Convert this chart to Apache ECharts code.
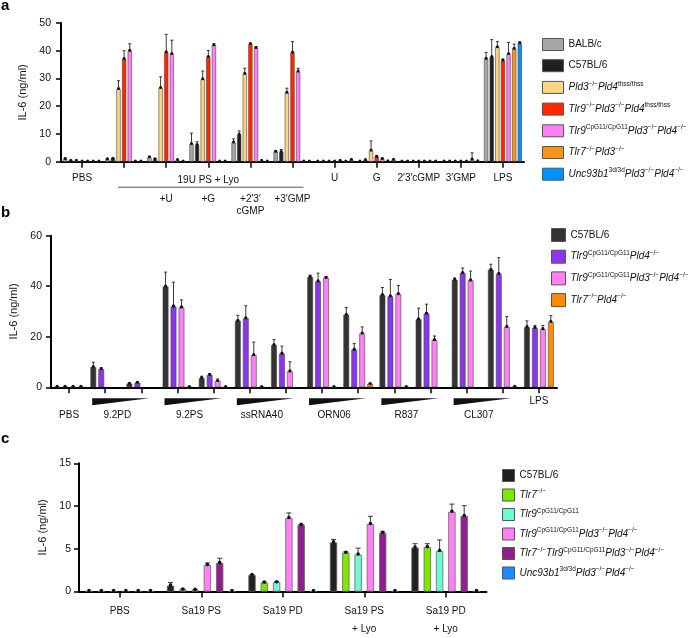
<!DOCTYPE html>
<html><head><meta charset="utf-8">
<script src="https://cdn.jsdelivr.net/npm/echarts@6/dist/echarts.min.js"></script>
<style>html,body{margin:0;padding:0;background:#fff}#c{width:700px;height:638px}</style>
</head><body><div id="c"></div>
<script>
// ================= DATA =================
// Panel a
const catsA = ['PBS', '', '+U', '+G', '+2′3′\ncGMP', '+3′GMP', 'U', 'G', '2′3′cGMP', '3′GMP', 'LPS'];
const groupA = { label: '19U PS + Lyo', first: 1, last: 5 };
const namesA = ['BALB/c', 'C57BL/6', 'Pld3^{−/−}Pld4^{thss/thss}', 'Tlr9^{−/−}Pld3^{−/−}Pld4^{thss/thss}',
  'Tlr9^{CpG11/CpG11}Pld3^{−/−}Pld4^{−/−}', 'Tlr7^{−/−}Pld3^{−/−}', 'Unc93b1^{3d/3d}Pld3^{−/−}Pld4^{−/−}'];
const a_BALBc  = [1.0, 0.85, 1.6, 6.4, 6.9, 3.6, 0.1, 0.1, 0.1, 0.1, 37.1];
const a_C57    = [0.3, 1.1, 0.85, 6.0, 9.7, 3.5, 0.1, 0.6, 0.1, 0.1, 37.7];
const a_Pld34  = [0.3, 26.2, 26.6, 29.7, 31.7, 24.9, 0.1, 4.0, 0.1, 0.1, 41.3];
const a_Tlr9KO = [0.1, 37.0, 39.5, 37.7, 42.4, 39.4, 0.1, 1.8, 0.1, 0.1, 36.5];
const a_Tlr9Cp = [0.1, 40.0, 38.8, 42.0, 41.0, 32.5, 0.3, 1.0, 0.1, 0.1, 38.8];
const a_Tlr7   = [0.1, 0.1, 0.6, 0.1, 0.3, 0.1, 0.1, 0.2, 0.1, 0.8, 40.7];
const a_Unc    = [0.1, 0.1, 0.1, 0.1, 0.1, 0.1, 0.7, 0.7, 0.1, 0.2, 42.7];
const aErr_BALBc  = [0.3, 0.2, 0.3, 3.9, 1.3, 0.3, 0, 0, 0, 0, 2.3];
const aErr_C57    = [0, 0.2, 0.3, 1.2, 1.4, 0.9, 0, 0, 0, 0, 6.3];
const aErr_Pld34  = [0, 3.0, 4.0, 3.0, 2.0, 1.6, 0, 3.5, 0, 0, 2.0];
const aErr_Tlr9KO = [0, 3.0, 6.4, 2.4, 0.3, 3.9, 0, 0.3, 0, 0, 0.5];
const aErr_Tlr9Cp = [0, 2.5, 5.0, 0.5, 0.5, 1.2, 0, 0.3, 0, 0, 4.2];
const aErr_Tlr7   = [0, 0, 0, 0, 0, 0, 0, 0, 0, 2.4, 1.7];
const aErr_Unc    = [0, 0, 0, 0, 0, 0, 0, 0, 0, 0, 0.5];

// Panel b
const stimB = ['9.2PD', '9.2PS', 'ssRNA40', 'ORN06', 'R837', 'CL307'];
const catsB = ['PBS', '9.2PD low', '9.2PD high', '9.2PS low', '9.2PS high', 'ssRNA40 low', 'ssRNA40 high',
  'ORN06 low', 'ORN06 high', 'R837 low', 'R837 high', 'CL307 low', 'CL307 high', 'LPS'];
const namesB = ['C57BL/6', 'Tlr9^{CpG11/CpG11}Pld4^{−/−}', 'Tlr9^{CpG11/CpG11}Pld3^{−/−}Pld4^{−/−}', 'Tlr7^{−/−}Pld4^{−/−}'];
const b_C57    = [0.2, 8.0, 1.4, 39.9, 3.6, 26.3, 16.7, 43.6, 28.7, 36.5, 26.9, 42.5, 46.5, 23.8];
const b_Tlr9P4 = [0.2, 7.2, 1.8, 32.0, 4.9, 27.3, 13.3, 41.9, 14.9, 36.0, 29.2, 45.2, 44.9, 23.5];
const b_Tlr9P34= [0.2, null, null, 31.6, 2.5, 12.7, 6.3, 43.3, 21.3, 36.9, 18.7, 42.3, 23.9, 23.0];
const b_Tlr7P4 = [0.2, null, null, 0.1, 0.1, 0.1, null, 0.1, 1.3, 0.1, null, null, 0.2, 25.9];
const bErr_C57    = [0, 1.9, 0.3, 5.7, 0.8, 2.2, 2.2, 0.8, 2.9, 3.0, 4.4, 0.8, 2.2, 2.5];
const bErr_Tlr9P4 = [0, 0.5, 0.3, 9.6, 0.5, 5.0, 3.0, 3.3, 2.4, 6.7, 3.7, 2.0, 6.4, 1.0];
const bErr_Tlr9P34= [0, 0, 0, 3.0, 0.8, 5.2, 3.8, 0.5, 2.6, 3.4, 1.6, 3.7, 4.1, 1.5];
const bErr_Tlr7P4 = [0, 0, 0, 0, 0, 0, 0, 0, 0.3, 0, 0, 0, 0, 2.5];

// Panel c
const catsC = ['PBS', 'Sa19 PS', 'Sa19 PD', 'Sa19 PS\n+ Lyo', 'Sa19 PD\n+ Lyo'];
const namesC = ['C57BL/6', 'Tlr7^{−/−}', 'Tlr9^{CpG11/CpG11}', 'Tlr9^{CpG11/CpG11}Pld3^{−/−}Pld4^{−/−}',
  'Tlr7^{−/−}Tlr9^{CpG11/CpG11}Pld3^{−/−}Pld4^{−/−}', 'Unc93b1^{3d/3d}Pld3^{−/−}Pld4^{−/−}'];
const c_C57     = [0.05, 0.7, 1.94, 5.75, 5.15];
const c_Tlr7    = [0.05, 0.25, 1.05, 4.55, 5.2];
const c_Tlr9    = [0.05, 0.2, 1.1, 4.33, 4.74];
const c_Tlr9P34 = [0.05, 3.1, 8.6, 7.9, 9.33];
const c_Tlr79P34= [0.05, 3.35, 7.8, 6.87, 8.84];
const c_Unc     = [0.05, 0.05, 0.05, 0.05, 0.05];
const cErr_C57     = [0, 0.35, 0.05, 0.35, 0.45];
const cErr_Tlr7    = [0, 0.05, 0.05, 0.1, 0.4];
const cErr_Tlr9    = [0, 0.05, 0.05, 0.75, 1.3];
const cErr_Tlr9P34 = [0, 0.25, 0.6, 0.9, 0.9];
const cErr_Tlr79P34= [0, 0.55, 0.05, 0.1, 1.2];
const cErr_Unc     = [0, 0, 0, 0, 0];

// ================= STYLE =================
const FONT = '"Liberation Sans", Arial, Helvetica, sans-serif';
const colorsA = ['#a7a7a9', '#231f20', '#fed480', '#ff2600', '#ff80f5', '#f7931e', '#0093ff'];
const colorsB = ['#333333', '#8b35ee', '#ff80f4', '#ff8c00'];
const colorsC = ['#231f20', '#80e800', '#6ffad6', '#ff80f5', '#8f1f8f', '#1a8cff'];
const PLAIN = new Set(['BALB/c', 'C57BL/6']);

const panels = [
  { key: 'a', names: namesA, colors: colorsA, vals: [a_BALBc, a_C57, a_Pld34, a_Tlr9KO, a_Tlr9Cp, a_Tlr7, a_Unc],
    errs: [aErr_BALBc, aErr_C57, aErr_Pld34, aErr_Tlr9KO, aErr_Tlr9Cp, aErr_Tlr7, aErr_Unc],
    catGap: 0.10, barGap: 0.33, cap: 3, dot: 1.5, border: '#444', bw: 0.6 },
  { key: 'b', names: namesB, colors: colorsB, vals: [b_C57, b_Tlr9P4, b_Tlr9P34, b_Tlr7P4],
    errs: [bErr_C57, bErr_Tlr9P4, bErr_Tlr9P34, bErr_Tlr7P4],
    catGap: 0.18, barGap: 0.38, cap: 3, dot: 1.6, border: '#444', bw: 0.6 },
  { key: 'c', names: namesC, colors: colorsC, vals: [c_C57, c_Tlr7, c_Tlr9, c_Tlr9P34, c_Tlr79P34, c_Unc],
    errs: [cErr_C57, cErr_Tlr7, cErr_Tlr9, cErr_Tlr9P34, cErr_Tlr79P34, cErr_Unc],
    catGap: 0.156, barGap: 0.68, cap: 5, dot: 1.8, border: '#666', bw: 0.8 }
];

function toRich(label) {
  const base = PLAIN.has(label) ? 'n' : 'i';
  let out = '', last = 0, m;
  const re = /\^\{([^}]*)\}/g;
  while ((m = re.exec(label))) {
    if (m.index > last) out += '{' + base + '|' + label.slice(last, m.index) + '}';
    out += '{s|' + m[1] + '}';
    last = re.lastIndex;
  }
  if (last < label.length) out += '{' + base + '|' + label.slice(last) + '}';
  return out;
}
const richStyles = (fs) => ({
  n: { fontFamily: FONT, fontSize: fs, color: '#111', lineHeight: 14 },
  i: { fontFamily: FONT, fontSize: fs, color: '#111', fontStyle: 'italic', lineHeight: 14 },
  s: { fontFamily: FONT, fontSize: fs * 0.65, color: '#111', verticalAlign: 'top', lineHeight: 8 }
});

function yAxisCfg(grid, max, interval, nameGap, margin) {
  return { type: 'value', gridIndex: grid, min: 0, max, interval,
    name: 'IL-6 (ng/ml)', nameLocation: 'middle', nameGap, nameRotate: 90,
    nameTextStyle: { fontFamily: FONT, fontSize: 11, color: '#111' },
    axisLine: { show: true, lineStyle: { color: '#000', width: 2 } },
    axisTick: { show: true, length: 5, lineStyle: { color: '#000', width: 1.5 } },
    axisLabel: { fontFamily: FONT, fontSize: 10.5, color: '#111', margin },
    splitLine: { show: false } };
}
function xAxisCfg(grid, data, labelOpt) {
  return { type: 'category', gridIndex: grid, data,
    axisLine: { show: true, lineStyle: { color: '#000', width: 2 } },
    axisTick: { show: true, alignWithLabel: true, length: 6, lineStyle: { color: '#000', width: 1.5 } },
    axisLabel: Object.assign({ interval: 0, fontFamily: FONT, fontSize: 10, color: '#111' }, labelOpt),
    splitLine: { show: false } };
}

const series = [];
panels.forEach((p, gi) => {
  const n = p.names.length;
  p.names.forEach((nm, si) => {
    series.push({ type: 'bar', name: p.key + ':' + nm, xAxisIndex: gi, yAxisIndex: gi,
      data: p.vals[si], barGap: (p.barGap * 100) + '%', barCategoryGap: (p.catGap * 100) + '%',
      itemStyle: { color: p.colors[si], borderColor: p.border, borderWidth: p.bw }, silent: true });
    const vals = p.vals[si], errs = p.errs[si];
    series.push({ type: 'custom', xAxisIndex: gi, yAxisIndex: gi, silent: true, z: 5, clip: false,
      data: vals.map((v, i) => v == null ? null : [i, v, errs[i] || 0]).filter(d => d),
      renderItem: function (params, api) {
        const band = api.size([1, 0])[0];
        const bw = band * (1 - p.catGap) / (n + (n - 1) * p.barGap);
        const off = (si - (n - 1) / 2) * bw * (1 + p.barGap);
        const c = api.coord([api.value(0), api.value(1)]);
        const t = api.coord([api.value(0), api.value(1) + api.value(2)]);
        const x = c[0] + off;
        const ch = [];
        if (api.value(2) > 0) {
          ch.push({ type: 'line', shape: { x1: x, y1: c[1], x2: x, y2: t[1] }, style: { stroke: '#222', lineWidth: 0.9 } });
          ch.push({ type: 'line', shape: { x1: x - p.cap / 2, y1: t[1], x2: x + p.cap / 2, y2: t[1] }, style: { stroke: '#222', lineWidth: 0.9 } });
        }
        ch.push({ type: 'circle', shape: { cx: x, cy: c[1] - 0.5, r: p.dot }, style: { fill: '#111' } });
        return { type: 'group', children: ch };
      } });
  });
});

function legendCfg(p, left, top, iw, ih, gap) {
  return { orient: 'vertical', left, top, padding: 0, itemWidth: iw, itemHeight: ih, itemGap: gap,
    icon: 'rect', selectedMode: false,
    itemStyle: { borderColor: '#555', borderWidth: 1 },
    data: p.names.map(nm => p.key + ':' + nm),
    formatter: (name) => toRich(name.slice(2)),
    textStyle: { fontFamily: FONT, fontSize: 10, color: '#111', rich: richStyles(10) } };
}

const option = {
  animation: false,
  backgroundColor: '#fff',
  grid: [
    { left: 61, top: 23, width: 463, height: 138.7 },
    { left: 47, top: 235.7, width: 510, height: 151.6 },
    { left: 79, top: 463.3, width: 407.5, height: 134 }
  ],
  xAxis: [
    xAxisCfg(0, catsA, { margin: 12, formatter: (v, i) => (i >= groupA.first && i <= groupA.last) ? '' : v }),
    xAxisCfg(1, catsB, { margin: 9, formatter: (v, i) => i === catsB.length - 1 ? v : '' }),
    xAxisCfg(2, catsC, { margin: 11, lineHeight: 17.7 })
  ],
  yAxis: [
    yAxisCfg(0, 50, 10, 30, 10),
    yAxisCfg(1, 60, 20, 32, 9),
    yAxisCfg(2, 15, 5, 30, 8)
  ],
  legend: [
    legendCfg(panels[0], 542, 38, 21, 12, 8.2),
    legendCfg(panels[1], 551, 228, 14, 13, 7.7),
    legendCfg(panels[2], 502, 469, 12, 12, 6)
  ],
  series
};

const chart = echarts.init(document.getElementById('c'));
chart.setOption(option);

// ---- annotations placed through the axes ----
const TXT = (x, y, text, extra) => ({ type: 'text', x, y, silent: true,
  style: Object.assign({ text, fontFamily: FONT, fontSize: 10, fill: '#111', align: 'center', verticalAlign: 'middle' }, extra || {}) });
const g = [];
const xa = i => chart.convertToPixel({ xAxisIndex: 0 }, i);
const ya0 = chart.convertToPixel({ yAxisIndex: 0 }, 0);
const x1 = xa(groupA.first), x5 = xa(groupA.last);
g.push(TXT((x1 + x5) / 2, ya0 + 18.5, groupA.label));
g.push({ type: 'line', silent: true, shape: { x1: x1 - 6, y1: ya0 + 25.5, x2: x5 + 11, y2: ya0 + 25.5 }, style: { stroke: '#555', lineWidth: 1 } });
for (let i = groupA.first + 1; i <= groupA.last; i++) g.push(TXT(xa(i), ya0 + 31.5, catsA[i], { verticalAlign: 'top', lineHeight: 12 }));

const xb = i => chart.convertToPixel({ xAxisIndex: 1 }, i);
const yb0 = chart.convertToPixel({ yAxisIndex: 1 }, 0);
g.push(TXT(xb(0), yb0 + 28, catsB[0]));
stimB.forEach((s, k) => {
  const lo = xb(1 + 2 * k), hi = xb(2 + 2 * k);
  g.push({ type: 'polygon', silent: true, shape: { points: [[lo - 13, yb0 + 11], [lo - 13, yb0 + 18], [hi + 8, yb0 + 11]] }, style: { fill: '#111' } });
  g.push(TXT((lo + hi) / 2 - 6, yb0 + 28, s));
});

g.push(TXT(1, 6, 'a', { align: 'left', fontSize: 15, fontWeight: 'bold', fill: '#000' }));
g.push(TXT(1, 213, 'b', { align: 'left', fontSize: 15, fontWeight: 'bold', fill: '#000' }));
g.push(TXT(1, 439, 'c', { align: 'left', fontSize: 15, fontWeight: 'bold', fill: '#000' }));
chart.setOption({ graphic: g });
</script>
</body></html>
